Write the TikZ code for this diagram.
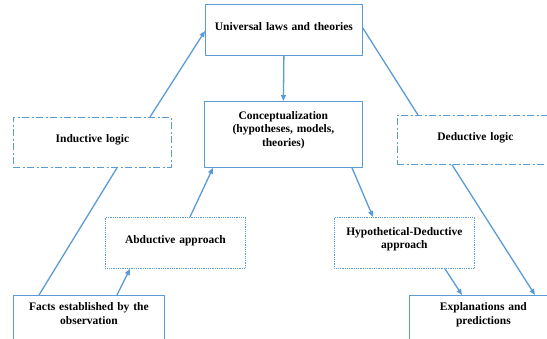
\documentclass[tikz,border=0pt]{standalone}
\usepackage{fontspec}
\setmainfont{Liberation Serif}
\usetikzlibrary{arrows.meta,positioning}
\definecolor{wordblue}{RGB}{91,155,213}

\begin{document}
\begin{tikzpicture}[x=1pt,y=-1pt,>={Triangle[length=6pt,width=5pt]},line join=round,
    box/.style={draw=wordblue,line width=0.8pt,anchor=north west,inner xsep=0pt,inner ysep=0pt,
      align=center,font=\fontsize{11.5}{13.3}\selectfont\bfseries},
    dashdot/.style={dash pattern=on 7pt off 2.5pt on 2pt off 2.5pt},
    dots/.style={dash pattern=on 1pt off 0.8pt},
    link/.style={wordblue,line width=1.3pt}]
  \useasboundingbox (0,0) rectangle (547,338);
  \clip (0,0) rectangle (547,338);
  % boxes
  \node[box,text width=157pt,text height=26pt,text depth=25pt] (univ) at (205,4) {Universal laws and theories};
  \node[box,text width=158pt,text height=18pt,text depth=48pt] (concept) at (204,101) {Conceptualization\\(hypotheses, models,\\theories)};
  \node[box,text width=158pt,text height=25pt,text depth=25pt,dashdot] (induct) at (13,117) {Inductive logic};
  \node[box,text width=156pt,text height=25pt,text depth=24pt,dashdot] (deduct) at (397,115) {Deductive logic};
  \node[box,text width=140pt,text height=26pt,text depth=25pt,dots] (abduct) at (105,217) {Abductive approach};
  \node[box,text width=140pt,text height=18pt,text depth=33pt,dots] (hypo) at (334,217) {Hypothetical-Deductive\\approach};
  \node[box,text width=151pt,text height=15.5pt,text depth=60pt] (facts) at (13,295) {Facts established by the\\observation};
  \node[box,text width=148pt,text height=15.5pt,text depth=60pt] (expl) at (409,295) {Explanations and\\predictions};
  % connectors
  \draw[link,->] ([xshift=137pt]induct.north west) -- ([yshift=-27pt]univ.north west);
  \draw[link,->] (univ.south) -- (concept.north);
  \draw[link] ([yshift=-24pt]univ.north east) -- ([xshift=21pt]deduct.north west);
  \draw[link,->] ([xshift=55pt]deduct.south west) -- ([xshift=126pt]expl.north west);
  \draw[link,->] ([xshift=148pt]concept.south west) -- ([xshift=39pt]hypo.north west);
  \draw[link,->] ([xshift=111pt]hypo.south west) -- ([xshift=53pt]expl.north west);
  \draw[link] ([xshift=26pt]facts.north west) -- ([xshift=104pt]induct.south west);
  \draw[link,->] ([xshift=104pt]facts.north west) -- ([xshift=25pt]abduct.south west);
  \draw[link,->] ([xshift=85pt]abduct.north west) -- ([xshift=9pt]concept.south west);
\end{tikzpicture}
\end{document}
